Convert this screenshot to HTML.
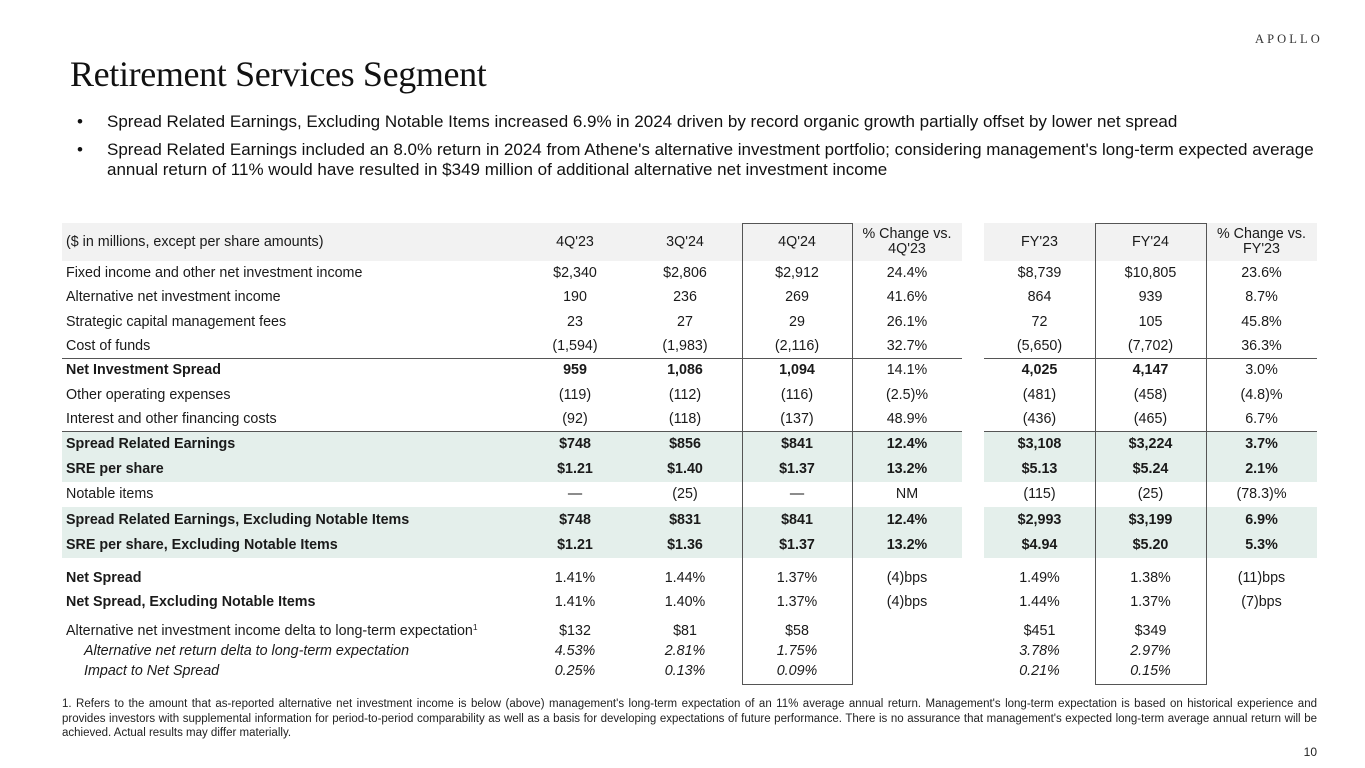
<!DOCTYPE html>
<html><head><meta charset="utf-8"><style>
*{margin:0;padding:0;box-sizing:border-box}
body{width:1365px;height:768px;background:#fff;position:relative;overflow:hidden;font-family:"Liberation Sans",Arial,sans-serif;color:#1a1a1a}
.abs{position:absolute}
.logo{left:1255px;top:31px;font-family:"Liberation Serif",serif;font-size:12.5px;letter-spacing:3.1px;color:#333;line-height:16px}
.title{left:70px;top:56px;font-family:"Liberation Serif",serif;font-size:36px;letter-spacing:-0.35px;line-height:36px;color:#111;white-space:nowrap}
.bul{left:77px;font-size:17px;line-height:20px;color:#111}
.bul span{position:absolute;left:0}
.bul div{position:absolute;left:30px;white-space:nowrap}
.bg{position:absolute}
.hdr{background:#f2f2f2}
.grn{background:#e4efeb}
.hl{position:absolute;height:1px;background:#555}
.box{position:absolute;border:1px solid #555;top:223px;height:462px}
.row{position:absolute;left:0;width:1365px;height:24px;line-height:24px;font-size:14.3px}
.row div{position:absolute;top:0;text-align:center;white-space:nowrap}
.row .l{left:66px;text-align:left}
.row .li{left:84px;text-align:left;font-style:italic}
.c1{left:520px;width:110px}.c2{left:630px;width:110px}.c3{left:742px;width:110px}.c4{left:852px;width:110px}
.c5{left:984px;width:111px}.c6{left:1095px;width:111px}.c7{left:1206px;width:111px}
.b{font-weight:bold}
.i div{font-style:italic}
.h div{line-height:15px}
.foot{left:62px;top:697px;width:1255px;font-size:11.5px;line-height:14.5px;color:#222}
.foot div{text-align:justify;text-align-last:justify;white-space:nowrap}
.foot div.last{text-align-last:left}
.pg{left:1290px;top:745px;width:27px;text-align:right;font-size:12px;color:#222}
sup{font-size:8.5px;vertical-align:top;line-height:10px;position:relative;top:3px}
</style></head><body>
<div class="abs logo">APOLLO</div>
<div class="abs title">Retirement Services Segment</div>
<div class="abs bul" style="top:112px"><span>•</span><div>Spread Related Earnings, Excluding Notable Items increased 6.9% in 2024 driven by record organic growth partially offset by lower net spread</div></div>
<div class="abs bul" style="top:140px"><span>•</span><div>Spread Related Earnings included an 8.0% return in 2024 from Athene's alternative investment portfolio; considering management's long-term expected average<br>annual return of 11% would have resulted in $349 million of additional alternative net investment income</div></div>

<div class="bg hdr" style="left:62px;top:223px;width:900px;height:38px"></div>
<div class="bg hdr" style="left:984px;top:223px;width:333px;height:38px"></div>
<div class="bg grn" style="left:62px;top:432px;width:900px;height:50px"></div>
<div class="bg grn" style="left:984px;top:432px;width:333px;height:50px"></div>
<div class="bg grn" style="left:62px;top:507px;width:900px;height:51px"></div>
<div class="bg grn" style="left:984px;top:507px;width:333px;height:51px"></div>
<div class="hl" style="left:62px;top:358px;width:900px"></div>
<div class="hl" style="left:984px;top:358px;width:333px"></div>
<div class="hl" style="left:62px;top:431px;width:900px"></div>
<div class="hl" style="left:984px;top:431px;width:333px"></div>
<div class="box" style="left:742px;width:111px"></div>
<div class="box" style="left:1095px;width:112px"></div>

<div class="row" style="top:230px"><div class="l">($ in millions, except per share amounts)</div><div class="c1">4Q'23</div><div class="c2">3Q'24</div><div class="c3">4Q'24</div><div class="c5">FY'23</div><div class="c6">FY'24</div></div>
<div class="row h" style="top:227px"><div class="c4">% Change vs.<br>4Q'23</div><div class="c7">% Change vs.<br>FY'23</div></div>

<div class="row" style="top:261px"><div class="l">Fixed income and other net investment income</div><div class="c1">$2,340</div><div class="c2">$2,806</div><div class="c3">$2,912</div><div class="c4">24.4%</div><div class="c5">$8,739</div><div class="c6">$10,805</div><div class="c7">23.6%</div></div>
<div class="row" style="top:285px"><div class="l">Alternative net investment income</div><div class="c1">190</div><div class="c2">236</div><div class="c3">269</div><div class="c4">41.6%</div><div class="c5">864</div><div class="c6">939</div><div class="c7">8.7%</div></div>
<div class="row" style="top:310px"><div class="l">Strategic capital management fees</div><div class="c1">23</div><div class="c2">27</div><div class="c3">29</div><div class="c4">26.1%</div><div class="c5">72</div><div class="c6">105</div><div class="c7">45.8%</div></div>
<div class="row" style="top:334px"><div class="l">Cost of funds</div><div class="c1">(1,594)</div><div class="c2">(1,983)</div><div class="c3">(2,116)</div><div class="c4">32.7%</div><div class="c5">(5,650)</div><div class="c6">(7,702)</div><div class="c7">36.3%</div></div>
<div class="row" style="top:358px"><div class="l b">Net Investment Spread</div><div class="c1 b">959</div><div class="c2 b">1,086</div><div class="c3 b">1,094</div><div class="c4">14.1%</div><div class="c5 b">4,025</div><div class="c6 b">4,147</div><div class="c7">3.0%</div></div>
<div class="row" style="top:383px"><div class="l">Other operating expenses</div><div class="c1">(119)</div><div class="c2">(112)</div><div class="c3">(116)</div><div class="c4">(2.5)%</div><div class="c5">(481)</div><div class="c6">(458)</div><div class="c7">(4.8)%</div></div>
<div class="row" style="top:407px"><div class="l">Interest and other financing costs</div><div class="c1">(92)</div><div class="c2">(118)</div><div class="c3">(137)</div><div class="c4">48.9%</div><div class="c5">(436)</div><div class="c6">(465)</div><div class="c7">6.7%</div></div>
<div class="row b" style="top:432px"><div class="l">Spread Related Earnings</div><div class="c1">$748</div><div class="c2">$856</div><div class="c3">$841</div><div class="c4">12.4%</div><div class="c5">$3,108</div><div class="c6">$3,224</div><div class="c7">3.7%</div></div>
<div class="row b" style="top:457px"><div class="l">SRE per share</div><div class="c1">$1.21</div><div class="c2">$1.40</div><div class="c3">$1.37</div><div class="c4">13.2%</div><div class="c5">$5.13</div><div class="c6">$5.24</div><div class="c7">2.1%</div></div>
<div class="row" style="top:482px"><div class="l">Notable items</div><div class="c1">—</div><div class="c2">(25)</div><div class="c3">—</div><div class="c4">NM</div><div class="c5">(115)</div><div class="c6">(25)</div><div class="c7">(78.3)%</div></div>
<div class="row b" style="top:508px"><div class="l">Spread Related Earnings, Excluding Notable Items</div><div class="c1">$748</div><div class="c2">$831</div><div class="c3">$841</div><div class="c4">12.4%</div><div class="c5">$2,993</div><div class="c6">$3,199</div><div class="c7">6.9%</div></div>
<div class="row b" style="top:533px"><div class="l">SRE per share, Excluding Notable Items</div><div class="c1">$1.21</div><div class="c2">$1.36</div><div class="c3">$1.37</div><div class="c4">13.2%</div><div class="c5">$4.94</div><div class="c6">$5.20</div><div class="c7">5.3%</div></div>
<div class="row" style="top:566px"><div class="l b">Net Spread</div><div class="c1">1.41%</div><div class="c2">1.44%</div><div class="c3">1.37%</div><div class="c4">(4)bps</div><div class="c5">1.49%</div><div class="c6">1.38%</div><div class="c7">(11)bps</div></div>
<div class="row" style="top:590px"><div class="l b">Net Spread, Excluding Notable Items</div><div class="c1">1.41%</div><div class="c2">1.40%</div><div class="c3">1.37%</div><div class="c4">(4)bps</div><div class="c5">1.44%</div><div class="c6">1.37%</div><div class="c7">(7)bps</div></div>
<div class="row" style="top:619px"><div class="l">Alternative net investment income delta to long-term expectation<sup>1</sup></div><div class="c1">$132</div><div class="c2">$81</div><div class="c3">$58</div><div class="c5">$451</div><div class="c6">$349</div></div>
<div class="row i" style="top:639px"><div class="li">Alternative net return delta to long-term expectation</div><div class="c1">4.53%</div><div class="c2">2.81%</div><div class="c3">1.75%</div><div class="c5">3.78%</div><div class="c6">2.97%</div></div>
<div class="row i" style="top:659px"><div class="li">Impact to Net Spread</div><div class="c1">0.25%</div><div class="c2">0.13%</div><div class="c3">0.09%</div><div class="c5">0.21%</div><div class="c6">0.15%</div></div>

<div class="abs foot">
<div>1. Refers to the amount that as-reported alternative net investment income is below (above) management's long-term expectation of an 11% average annual return. Management's long-term expectation is based on historical experience and</div>
<div>provides investors with supplemental information for period-to-period comparability as well as a basis for developing expectations of future performance. There is no assurance that management's expected long-term average annual return will be</div>
<div class="last">achieved. Actual results may differ materially.</div>
</div>
<div class="abs pg">10</div>
</body></html>
